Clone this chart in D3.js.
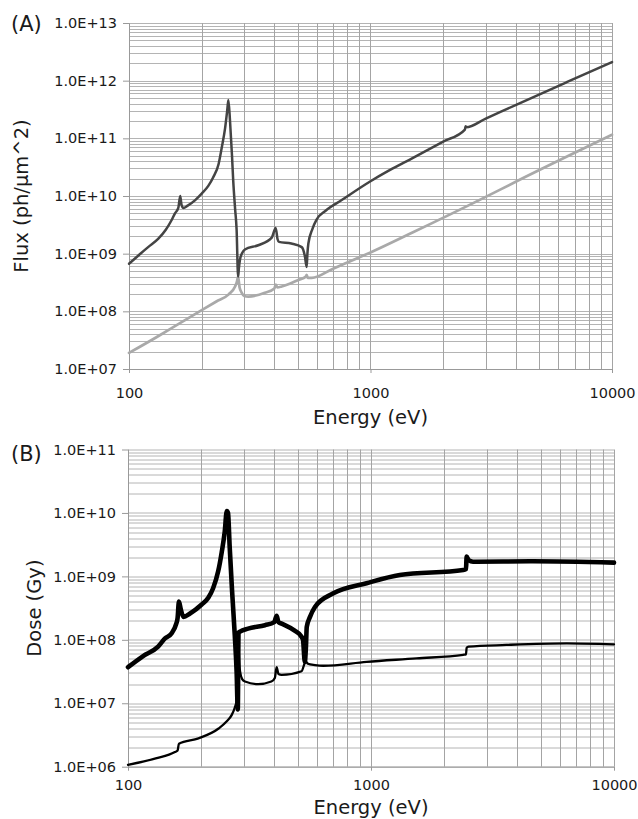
<!DOCTYPE html>
<html>
<head>
<meta charset="utf-8">
<script src="https://cdn.jsdelivr.net/npm/d3@7"></script>
<style>
  body { margin: 0; background: #fff; }
  text { font-family: "DejaVu Sans", sans-serif; fill: #1a1a1a; }
</style>
</head>
<body>
<div id="chart"></div>
<script>
// Panel A: flux, dark line (upper) and light line (lower)
var fluxDarkE = [100, 110, 120, 132, 142, 150, 155, 160, 163, 165, 168, 175, 188, 200, 213, 223, 235, 242, 250, 255, 258, 262, 267, 270, 275, 279, 283, 285, 288, 295, 302, 343, 390, 405, 412, 418, 470, 519, 535, 544, 548, 553, 575, 598, 650, 760, 1000, 1200, 1500, 2000, 2460, 2475, 2490, 3000, 4030, 6490, 10000];
var fluxDarkV = [6.7e8, 9.5e8, 1.3e9, 1.8e9, 2.6e9, 3.8e9, 5.0e9, 6.2e9, 1.0e10, 7.0e9, 6.2e9, 6.8e9, 8.5e9, 1.1e10, 1.5e10, 2.1e10, 3.6e10, 6.8e10, 1.5e11, 3.0e11, 4.6e11, 2.0e11, 5.0e10, 1.9e10, 6.0e9, 2.6e9, 4.0e8, 5.5e8, 7.8e8, 1.05e9, 1.18e9, 1.4e9, 1.9e9, 2.8e9, 1.8e9, 1.6e9, 1.5e9, 1.3e9, 9.0e8, 5.9e8, 1.0e9, 1.5e9, 2.7e9, 3.9e9, 5.5e9, 8.5e9, 1.8e10, 2.8e10, 4.6e10, 8.8e10, 1.42e11, 1.62e11, 1.55e11, 2.2e11, 3.85e11, 9.4e11, 2.1e12];

var fluxLightE = [100, 132, 160, 200, 230, 258, 275, 280, 283, 287, 293, 300, 312, 365, 400, 405, 412, 429, 502, 540, 544, 550, 571, 700, 891, 1000, 1500, 2930, 4030, 10000];
var fluxLightV = [1.9e7, 3.7e7, 6.0e7, 1.05e8, 1.48e8, 1.95e8, 2.7e8, 3.3e8, 4.0e8, 2.6e8, 2.1e8, 1.85e8, 1.8e8, 2.1e8, 2.5e8, 2.9e8, 2.6e8, 2.7e8, 3.5e8, 4.0e8, 4.3e8, 3.8e8, 3.8e8, 5.5e8, 8.5e8, 1.05e9, 2.35e9, 9.2e9, 1.8e10, 1.15e11];

// Panel B: dose, thick line (upper) and thin line (lower)
var doseThickE = [100, 115, 133, 142, 151, 158, 160, 162, 165, 169, 180, 201, 214, 224, 235, 243, 250, 255, 258, 262, 268, 275, 280, 283, 285, 289, 312, 366, 400, 409, 416, 429, 485, 515, 525, 534, 540, 544, 561, 588, 700, 959, 1313, 2395, 2460, 2475, 2520, 2630, 4640, 10000];
var doseThickV = [3.7e7, 5.5e7, 7.8e7, 1.05e8, 1.26e8, 1.8e8, 2.2e8, 4.0e8, 3.0e8, 2.3e8, 2.6e8, 3.6e8, 4.6e8, 6.5e8, 1.2e9, 2.4e9, 5.0e9, 1.07e10, 1.0e10, 3.0e9, 6.0e8, 1.2e8, 3.0e7, 8.0e6, 1.3e8, 1.35e8, 1.5e8, 1.7e8, 1.9e8, 2.4e8, 1.9e8, 1.8e8, 1.4e8, 1.15e8, 1.0e8, 4.5e7, 8.0e7, 1.6e8, 2.3e8, 3.3e8, 5.4e8, 7.8e8, 1.05e9, 1.26e9, 1.3e9, 2.05e9, 1.8e9, 1.7e9, 1.73e9, 1.65e9];

var doseThinE = [100, 130, 156, 160, 162, 195, 236, 255, 267, 275, 280, 283, 284, 286, 289, 295, 303, 343, 389, 402, 409, 416, 429, 518, 534, 540, 550, 588, 636, 959, 1540, 2395, 2460, 2475, 2520, 3605, 6400, 10000];
var doseThinV = [1.07e6, 1.35e6, 1.7e6, 1.8e6, 2.3e6, 2.8e6, 4.0e6, 5.2e6, 6.5e6, 8.5e6, 1.1e7, 2.0e7, 1.2e8, 6.0e7, 3.2e7, 2.4e7, 2.2e7, 2.0e7, 2.2e7, 2.5e7, 3.7e7, 2.9e7, 2.8e7, 3.2e7, 4.3e7, 4.5e7, 4.2e7, 4.0e7, 3.9e7, 4.5e7, 5.1e7, 5.8e7, 5.9e7, 7.5e7, 7.8e7, 8.3e7, 8.8e7, 8.5e7];

var energyTicks = [100, 1000, 10000];
var fluxTicks = [1e7, 1e8, 1e9, 1e10, 1e11, 1e12, 1e13];
var doseTicks = [1e6, 1e7, 1e8, 1e9, 1e10, 1e11];

var svg = d3.select('#chart')
    .append('svg')
    .attr('width', 638)
    .attr('height', 819);

function sci(v) {
    var p = Math.round(Math.log10(v));
    return '1.0E+' + (p < 10 ? '0' : '') + p;
}

function zip(es, vs) {
    return es.map(function (e, i) { return [e, vs[i]]; });
}

function drawPanel(cfg) {
    var w = cfg.right - cfg.left;
    var h = cfg.bottom - cfg.top;

    var g = svg.append('g')
        .attr('transform', 'translate(' + cfg.left + ',' + cfg.top + ')');

    var x = d3.scaleLog().domain([100, 10000]).range([0, w]);
    var y = d3.scaleLog().domain(cfg.yDomain).range([h, 0]);

    // grid
    g.append('g')
        .selectAll('line.h')
        .data(y.ticks())
        .enter()
        .append('line')
        .attr('x1', 0).attr('x2', w)
        .attr('y1', function (d) { return Math.round(y(d)) + 0.5; })
        .attr('y2', function (d) { return Math.round(y(d)) + 0.5; })
        .attr('stroke', '#b4b4b4')
        .attr('stroke-width', 1);

    g.append('g')
        .selectAll('line.v')
        .data(x.ticks())
        .enter()
        .append('line')
        .attr('y1', 0).attr('y2', h)
        .attr('x1', function (d) { return Math.round(x(d)) + 0.5; })
        .attr('x2', function (d) { return Math.round(x(d)) + 0.5; })
        .attr('stroke', '#a4a4a4')
        .attr('stroke-width', 1);

    // axes
    var ya = g.append('g')
        .call(d3.axisLeft(y).tickValues(cfg.yTicks).tickFormat(sci).tickSizeInner(6).tickSizeOuter(0).tickPadding(6));
    var xa = g.append('g')
        .attr('transform', 'translate(0,' + h + ')')
        .call(d3.axisBottom(x).tickValues(energyTicks).tickFormat(d3.format('d')).tickSizeInner(4).tickSizeOuter(0).tickPadding(cfg.xPad));

    [ya, xa].forEach(function (a) {
        a.select('.domain').attr('stroke', '#999');
        a.selectAll('.tick line').attr('stroke', '#999');
        a.selectAll('text')
            .style('font-family', '"DejaVu Sans", sans-serif')
            .style('font-size', '14.5px')
            .attr('fill', '#1a1a1a');
    });

    var line = d3.line()
        .x(function (d) { return x(d[0]); })
        .y(function (d) { return y(d[1]); })
        .curve(d3.curveMonotoneX);

    cfg.series.forEach(function (s) {
        g.append('path')
            .datum(zip(s.e, s.v))
            .attr('fill', 'none')
            .attr('stroke', s.color)
            .attr('stroke-width', s.width)
            .attr('stroke-linejoin', 'round')
            .attr('stroke-linecap', 'round')
            .attr('d', line);
    });

    // titles
    svg.append('text')
        .attr('x', cfg.left + w / 2)
        .attr('y', cfg.xTitleY)
        .attr('text-anchor', 'middle')
        .style('font-size', '19.5px')
        .text('Energy (eV)');

    svg.append('text')
        .attr('transform', 'translate(' + cfg.yTitleX + ',' + (cfg.top + h / 2) + ') rotate(-90)')
        .attr('text-anchor', 'middle')
        .style('font-size', '19.5px')
        .text(cfg.yTitle);

    svg.append('text')
        .attr('x', 11)
        .attr('y', cfg.labelY)
        .style('font-size', '21px')
        .text(cfg.label);
}

drawPanel({
    left: 129, right: 612, top: 23, bottom: 369,
    yDomain: [1e7, 1e13], yTicks: fluxTicks,
    xPad: 15, xTitleY: 424, yTitleX: 28, yTitle: 'Flux (ph/\u03bcm^2)',
    label: '(A)', labelY: 31,
    series: [
        { e: fluxLightE, v: fluxLightV, color: '#a9a9a9', width: 2.7 },
        { e: fluxDarkE, v: fluxDarkV, color: '#444', width: 2.5 }
    ]
});

drawPanel({
    left: 128, right: 614, top: 449.5, bottom: 766.7,
    yDomain: [1e6, 1e11], yTicks: doseTicks,
    xPad: 9, xTitleY: 814, yTitleX: 41, yTitle: 'Dose (Gy)',
    label: '(B)', labelY: 461,
    series: [
        { e: doseThinE, v: doseThinV, color: '#000', width: 2.3 },
        { e: doseThickE, v: doseThickV, color: '#000', width: 4.6 }
    ]
});
</script>
</body>
</html>
